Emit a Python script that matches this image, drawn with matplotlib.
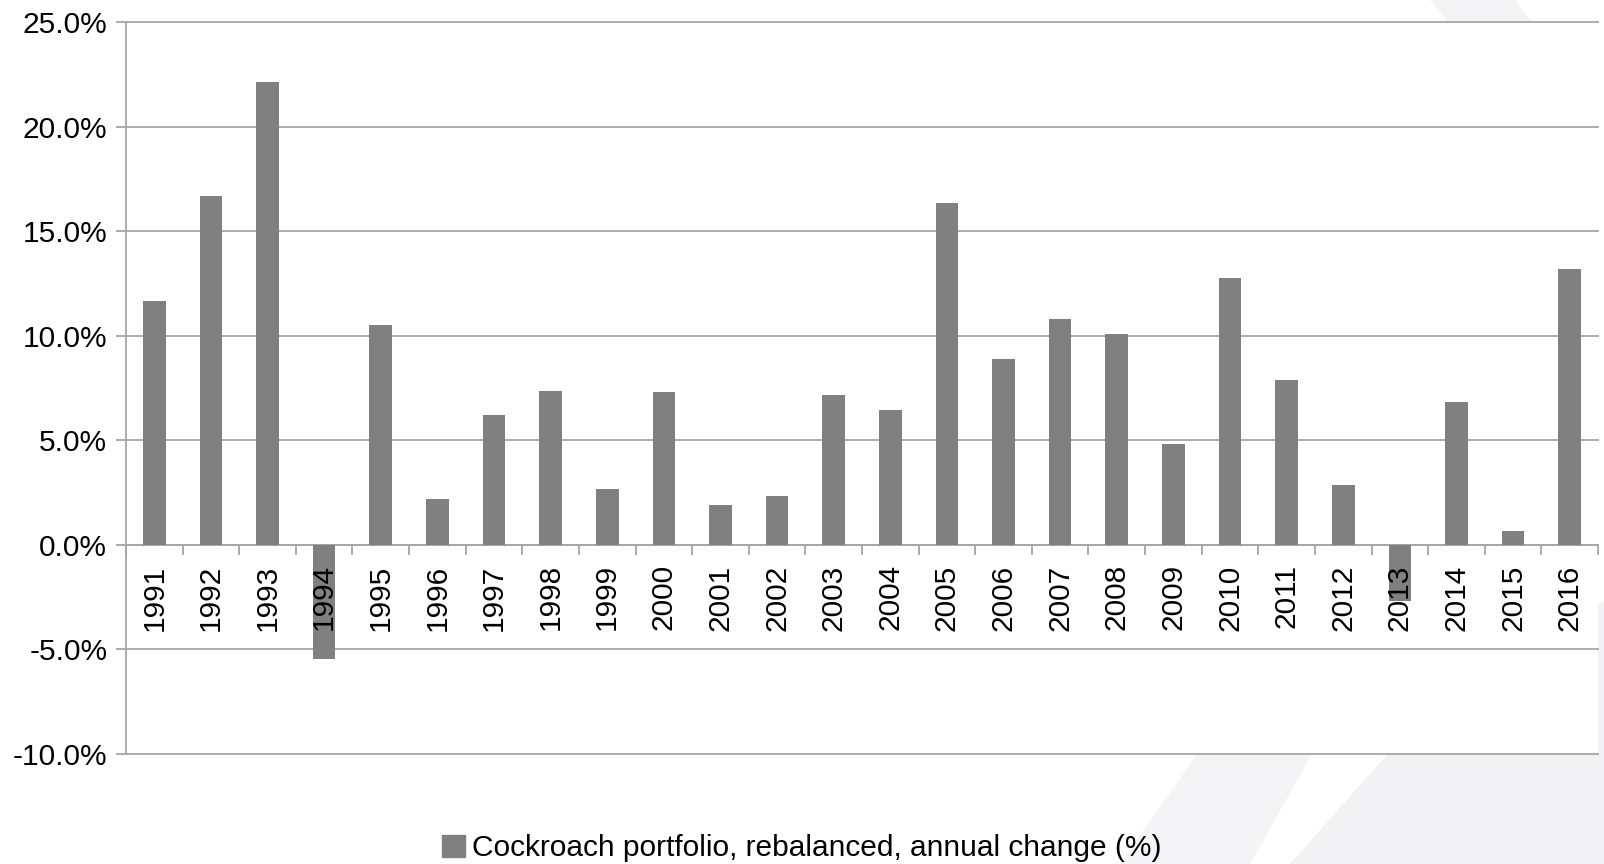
import matplotlib
matplotlib.use("Agg")
import matplotlib.pyplot as plt
import numpy as np
from matplotlib.patches import Polygon
from matplotlib.ticker import FuncFormatter

plt.rcParams['font.family'] = ['Liberation Sans', 'DejaVu Sans']

# annual change (%)
years = [str(y) for y in range(1991, 2017)]
values = [11.67, 16.70, 22.12, -5.45, 10.50, 2.20, 6.20, 7.37, 2.69, 7.32,
          1.90, 2.34, 7.18, 6.45, 16.36, 8.89, 10.79, 10.06, 4.83, 12.77,
          7.90, 2.88, -2.70, 6.84, 0.68, 13.18]
series_name = 'Cockroach portfolio, rebalanced, annual change (%)'

grid_c = '#a6a6a6'
bar_c = '#808080'

fig = plt.figure(figsize=(16.04, 8.64), dpi=100)
W, H = 1604, 864

# faint background swoosh behind the chart
def fig_poly(pts, color):
    pts = [(x / W, 1 - y / H) for x, y in pts]
    p = Polygon(pts, closed=True, transform=fig.transFigure, facecolor=color,
                edgecolor='none', zorder=-5)
    fig.patches.append(p)

fig_poly([(1430, 0), (1515, 0), (1560, 60), (1480, 60)], '#f4f4f6')
fig_poly([(1207, 740), (1320, 740), (1250, 864), (1120, 864)], '#f4f4f6')
fig_poly([(1400, 740), (1604, 600), (1604, 864), (1290, 864)], '#f2f2f4')

ax = fig.add_axes([126 / W, 1 - 754 / H, (1598 - 126) / W, (754 - 22) / H])
ax.set_facecolor('white')

x = np.arange(len(years))
ax.bar(x, values, width=0.4, color=bar_c, zorder=1)

ax.set_xlim(-0.5, len(years) - 0.5)
ax.set_ylim(-10, 25)
yt = np.arange(-10, 26, 5)
ax.set_yticks(yt)
ax.yaxis.set_major_formatter(FuncFormatter(lambda v, p: f'{v:.1f}%'))

# gridlines under the bars, axis labels above them
for v in yt:
    ax.axhline(v, color=grid_c, linewidth=1.3, zorder=0, clip_on=False)

for s in ['top', 'right']:
    ax.spines[s].set_visible(False)
ax.spines['left'].set_color(grid_c)
ax.spines['left'].set_linewidth(1.3)
ax.spines['bottom'].set_position(('data', 0))
ax.spines['bottom'].set_color(grid_c)
ax.spines['bottom'].set_linewidth(1.3)
ax.spines['bottom'].set_zorder(0.5)

ax.set_xticks(x)
ax.set_xticklabels(years, rotation=90, fontsize=21.5)
ax.set_xticks(np.arange(-0.5, len(years), 1), minor=True)
ax.tick_params(axis='x', which='major', length=0, pad=14)
ax.tick_params(axis='x', which='minor', length=7.5, color=grid_c, width=1.3, direction='out')
ax.tick_params(axis='y', length=7.5, color=grid_c, width=1.3, labelsize=21.5, pad=6)
for lab in ax.get_xticklabels():
    lab.set_verticalalignment('top')

handle = plt.Rectangle((0, 0), 1, 1, color=bar_c)
fig.legend([handle], [series_name], loc='center', bbox_to_anchor=(0.5, 1 - 848 / H),
           frameon=False, fontsize=21.5, handlelength=0.75, handleheight=0.75,
           handletextpad=0.25)

fig.savefig('out.png', dpi=100)
